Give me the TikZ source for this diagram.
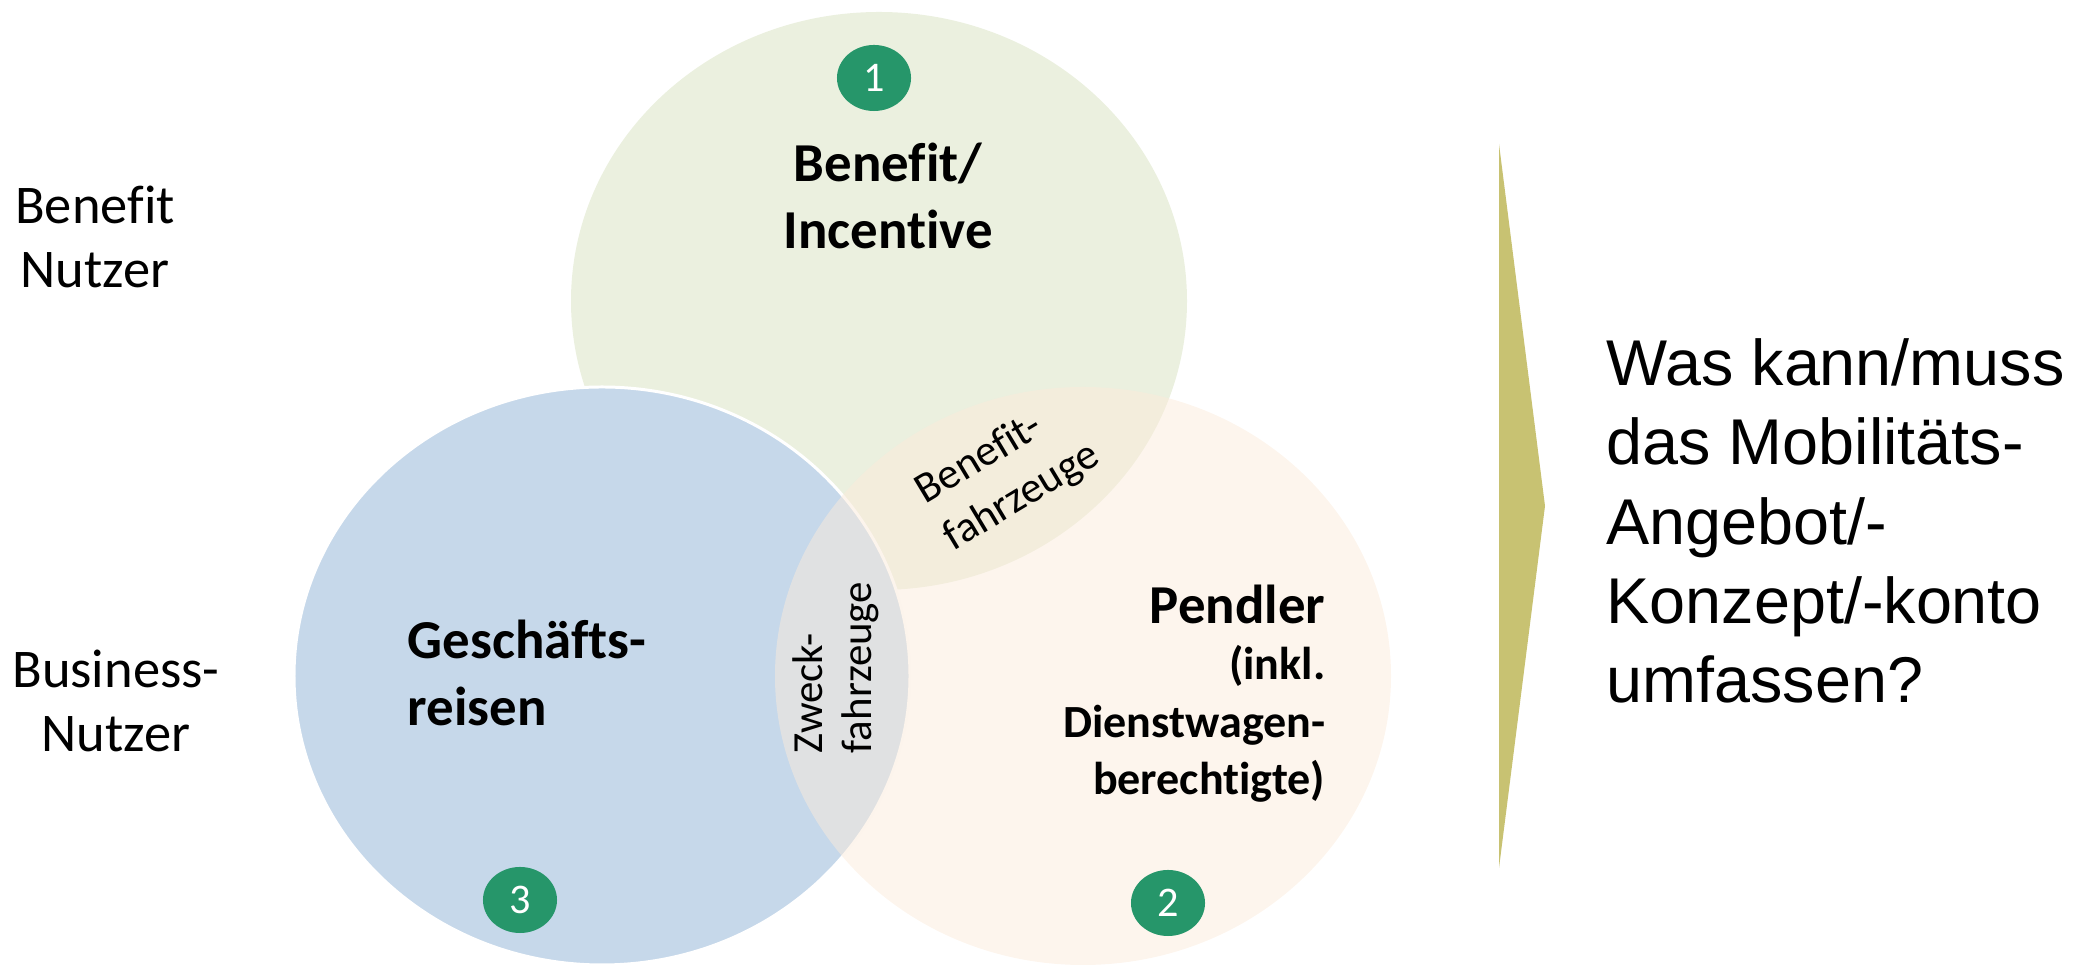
\documentclass[tikz,border=0pt]{standalone}
\usepackage{fontspec}
\setmainfont{Carlito}[Ligatures={CommonOff,ContextualOff}]
\newfontfamily\arialfont{Liberation Sans}
\usepackage{tikz}
\usetikzlibrary{shapes.geometric,positioning}

\definecolor{kreisgruen}{RGB}{235,240,223}
\definecolor{kreisblau}{RGB}{198,216,234}
\definecolor{kreisorange}{RGB}{251,235,219}
\definecolor{badgegruen}{RGB}{38,150,106}
\definecolor{pfeiloliv}{RGB}{200,194,114}

\begin{document}
\begin{tikzpicture}[x=0.01cm,y=0.01cm,
  badge/.style={ellipse,fill=badgegruen,text=white,inner sep=0pt,minimum width=0.74cm,minimum height=0.66cm,font=\fontsize{12}{14}\selectfont},
  titel/.style={inner sep=0pt,font=\fontsize{15.6}{19.3}\selectfont\bfseries},
  seite/.style={inner sep=0pt,align=center,font=\fontsize{15.5}{18.2}\selectfont},
  fahrzeug/.style={inner sep=0pt,align=left,font=\fontsize{12.3}{15.4}\selectfont}]
\useasboundingbox (0,0) rectangle (2093,-965);

\fill[kreisgruen] (879,-301) ellipse [x radius=308, y radius=289];
\filldraw[fill=kreisblau,draw=white,line width=0.85pt] (602,-676) ellipse [x radius=308, y radius=289];
\fill[kreisorange,fill opacity=0.5] (1083,-676) ellipse [x radius=308, y radius=289];

\node[badge] (eins) at (874,-78) {1};
\node[badge] (zwei) at (1168,-903) {2};
\node[badge] (drei) at (520,-900) {3};

\node[titel,align=center] (benefit) at (888,-196) {Benefit/\\Incentive};
\node[titel,align=left,anchor=west] (geschaeft) at (407,-673) {Geschäfts-\\reisen};
\node[titel,anchor=base east] (pendler) at (1326,-624) {Pendler};
\node[inner sep=0pt,align=right,font=\fontsize{13.1}{16.3}\selectfont\bfseries,below=0.2cm of pendler.south east,anchor=north east] (inkl) {(inkl.\\Dienstwagen-\\berechtigte)};

\node[fahrzeug,rotate=31] (benefitfz) at (1008,-474) {Benefit-\\fahrzeuge};
\node[fahrzeug,rotate=90,anchor=west,font=\fontsize{12.2}{14}\selectfont] (zweckfz) at (836,-754) {Zweck-\\fahrzeuge};

\node[seite] (benefitnutzer) at (95,-237) {Benefit\\Nutzer};
\node[seite] (businessnutzer) at (116,-701) {Business-\\Nutzer};

\coordinate (pfeiloben) at (1499,-144);
\coordinate (pfeilspitze) at (1545,-506);
\coordinate (pfeilunten) at (1499,-868);
\fill[pfeiloliv] (pfeiloben)--(pfeilspitze)--(pfeilunten)--cycle;

\node[inner sep=0pt,align=left,anchor=west,font=\arialfont\fontsize{18.4}{22.5}\selectfont] (frage) at (1606,-521) {Was kann/muss\\das Mobilitäts-\\Angebot/-\\Konzept/-konto\\umfassen?};
\end{tikzpicture}
\end{document}
